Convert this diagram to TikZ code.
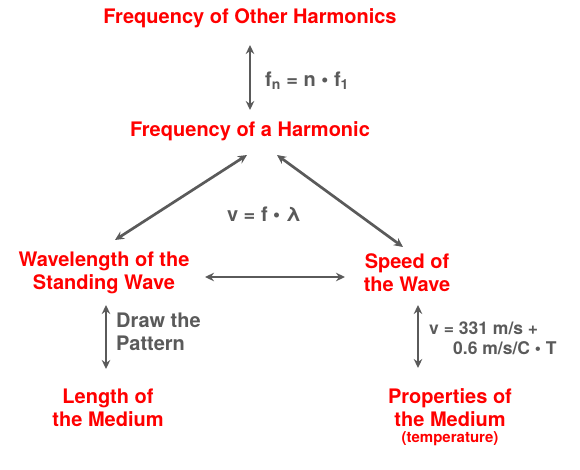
\documentclass[tikz,border=0pt]{standalone}
\usepackage{fontspec}
\setmainfont{TeX Gyre Heros}
\usetikzlibrary{arrows.meta}
\definecolor{hred}{HTML}{FF0000}
\definecolor{hgray}{HTML}{5A5A5A}
\begin{document}
\begin{tikzpicture}[x=1pt,y=1pt,
  title/.style={text=hred,font=\bfseries\fontsize{20}{23}\selectfont,align=center,inner sep=0pt},
  small/.style={text=hred,font=\bfseries\fontsize{15}{17}\selectfont,inner sep=0pt},
  lbl/.style={text=hgray,font=\bfseries\fontsize{20}{23}\selectfont,align=left,inner sep=0pt},
  lbls/.style={text=hgray,font=\bfseries\fontsize{17.5}{20}\selectfont,align=left,inner sep=0pt},
  link/.style={draw=hgray,line width=2.7pt,{Stealth[length=9pt,width=8.5pt]}-{Stealth[length=9pt,width=8.5pt]}}]
\useasboundingbox (0,0) rectangle (580,-469);
\node[title] (top) at (250,-18.5) {Frequency of Other Harmonics};
\node[title] (harm) at (250,-131.5) {Frequency of a Harmonic};
\node[title] (wave) at (104,-273) {Wavelength of the\\Standing Wave};
\node[title] (speed) at (407,-273) {Speed of\\the Wave};
\node[title] (len) at (108,-408) {Length of\\the Medium};
\node[title] (prop) at (450,-408) {Properties of\\the Medium};
\node[small] (temp) at (450,-439) {(temperature)};
\node[lbl,anchor=west] (fn) at (265,-81) {f\textsubscript{n} = n • f\textsubscript{1}};
\node[lbl] (vfl) at (264,-214) {v = f • λ};
\node[lbl,anchor=west] (draw) at (116,-332) {Draw the\\Pattern};
\node[lbls,anchor=west] (vel) at (429,-338) {v = 331 m/s +\\\hspace*{24pt}0.6 m/s/C • T};
\draw[link] ([yshift=-26.5pt]top.center) -- ([yshift=21.5pt]harm.center);
\draw[link] ([shift={(-3,-23.5)}]harm.center) -- ([shift={(11,33)}]wave.center);
\draw[link] ([shift={(27,-23.5)}]harm.center) -- ([shift={(-4,26)}]speed.center);
\draw[link] ([shift={(101,-4)}]wave.center) -- ([shift={(-62,-4)}]speed.center);
\draw[link] ([shift={(2,-32)}]wave.center) -- ([shift={(-2,39)}]len.center);
\draw[link] ([shift={(11,-32)}]speed.center) -- ([shift={(-32,40)}]prop.center);
\end{tikzpicture}
\end{document}
